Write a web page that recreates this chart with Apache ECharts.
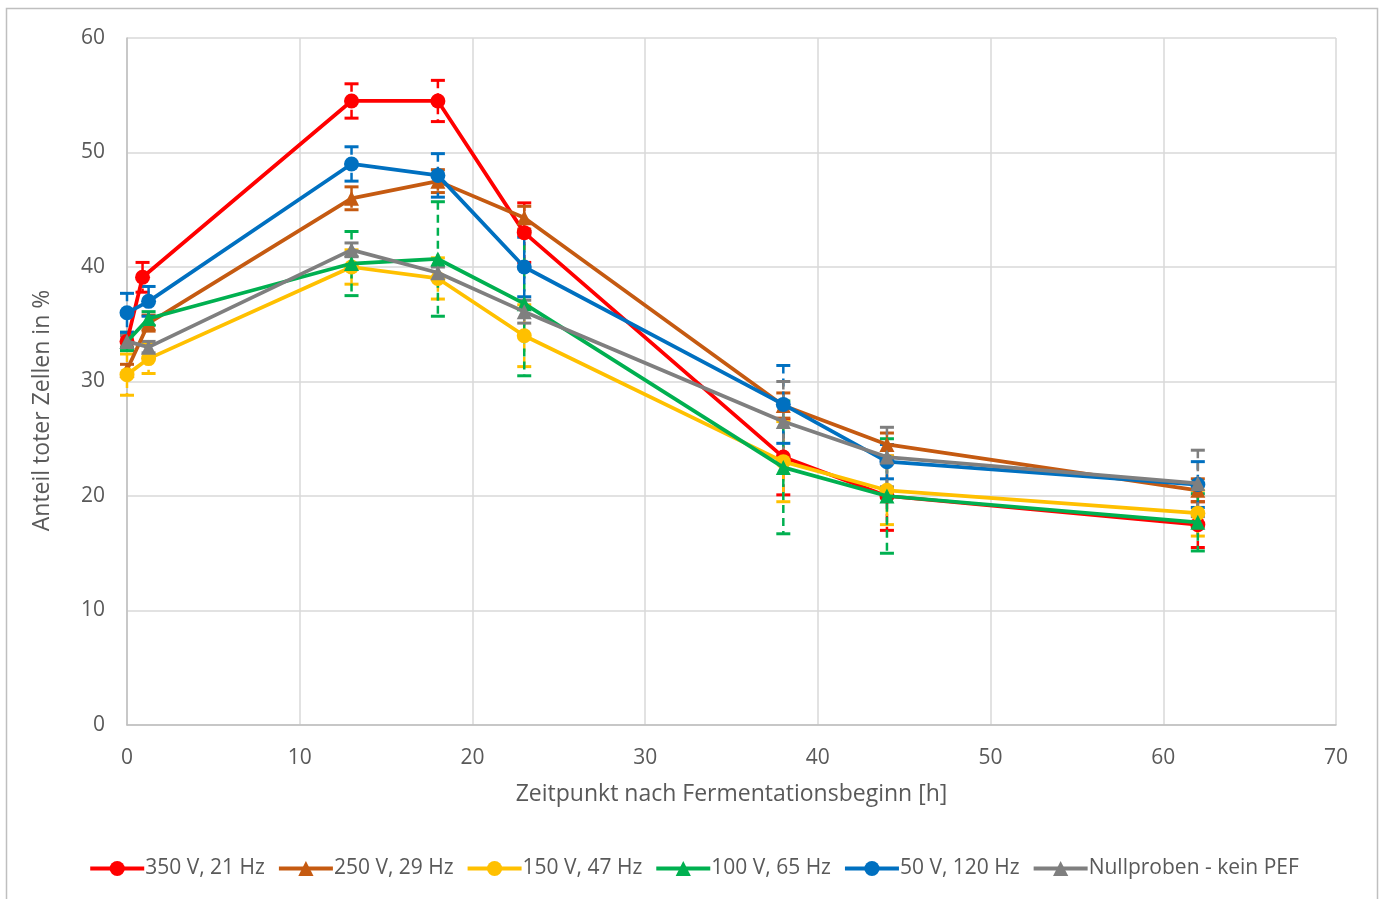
<!DOCTYPE html>
<html>
<head>
<meta charset="utf-8">
<script src="https://cdn.jsdelivr.net/npm/echarts@6/dist/echarts.min.js"></script>
<style>
html,body{margin:0;padding:0;background:#fff;}
#chart{width:1387px;height:899px;}
</style>
</head>
<body>
<div id="chart"></div>
<script>
// ---- data ----
const seriesNames = ['350 V, 21 Hz','250 V, 29 Hz','150 V, 47 Hz','100 V, 65 Hz','50 V, 120 Hz','Nullproben - kein PEF'];
const xRed   = [0, 0.9, 13, 18, 23, 38, 44, 62];
const xOther = [0, 1.25, 13, 18, 23, 38, 44, 62];
const y350 = [33.5, 39.1, 54.5, 54.5, 43.0, 23.4, 20.0, 17.5];
const e350 = [0.5, 1.3, 1.5, 1.8, 2.6, 3.3, 3.0, 2.0];
const y250 = [31.0, 35.1, 46.0, 47.5, 44.3, 27.9, 24.5, 20.5];
const e250 = [0.5, 0.7, 1.0, 1.0, 1.0, 1.1, 1.0, 1.0];
const y150 = [30.6, 32.0, 40.0, 39.0, 34.0, 23.0, 20.5, 18.5];
const e150 = [1.8, 1.3, 1.5, 1.8, 2.7, 3.5, 3.0, 2.0];
const y100 = [33.5, 35.5, 40.3, 40.7, 36.8, 22.5, 20.0, 17.7];
const e100 = [0.8, 0.6, 2.8, 5.0, 6.3, 5.8, 5.0, 2.5];
const y50  = [36.0, 37.0, 49.0, 48.0, 40.0, 28.0, 23.0, 21.0];
const e50  = [1.7, 1.3, 1.5, 1.9, 2.6, 3.4, 1.5, 2.0];
const yNull = [33.5, 33.0, 41.5, 39.5, 36.1, 26.5, 23.4, 21.1];
const eNull = [0.5, 0.5, 0.6, 0.5, 1.0, 3.5, 2.6, 2.9];
const xTicks = [0, 10, 20, 30, 40, 50, 60, 70];
const yTicks = [0, 10, 20, 30, 40, 50, 60];

const colors = ['#FF0000', '#C55A11', '#FFC000', '#00B050', '#0070C0', '#7F7F7F'];
const symbols = ['circle', 'triangle', 'circle', 'triangle', 'circle', 'triangle'];
const allX = [xRed, xOther, xOther, xOther, xOther, xOther];
const allY = [y350, y250, y150, y100, y50, yNull];
const allE = [e350, e250, e150, e100, e50, eNull];

const FONT = 'Open Sans';
const TXT = '#595959';

function errRender(color) {
  return function (params, api) {
    const x = api.value(0), lo = api.value(1), hi = api.value(2);
    const p1 = api.coord([x, hi]), p2 = api.coord([x, lo]);
    const cw = 7;
    return {
      type: 'group',
      children: [
        {type: 'line', shape: {x1: p1[0], y1: p1[1], x2: p2[0], y2: p2[1]},
         style: {stroke: color, lineWidth: 2.5, lineDash: [8, 5]}},
        {type: 'line', shape: {x1: p1[0] - cw, y1: p1[1], x2: p1[0] + cw, y2: p1[1]},
         style: {stroke: color, lineWidth: 3}},
        {type: 'line', shape: {x1: p2[0] - cw, y1: p2[1], x2: p2[0] + cw, y2: p2[1]},
         style: {stroke: color, lineWidth: 3}}
      ]
    };
  };
}

const series = [];
seriesNames.forEach((n, i) => {
  series.push({
    name: 'err' + i,
    type: 'custom',
    renderItem: errRender(colors[i]),
    data: allX[i].map((x, k) => [x, allY[i][k] - allE[i][k], allY[i][k] + allE[i][k]]),
    encode: {x: 0, y: [1, 2]},
    z: 2,
    silent: true
  });
});
const lineSeries = seriesNames.map((n, i) => ({
  name: n,
  type: 'line',
  data: allX[i].map((x, k) => [x, allY[i][k]]),
  symbol: symbols[i],
  symbolSize: 15,
  showSymbol: true,
  lineStyle: {color: colors[i], width: 3.75},
  itemStyle: {color: colors[i]},
  z: 3 + i,
  animation: false
}));

const chart = echarts.init(document.getElementById('chart'), null, {renderer: 'canvas'});
chart.setOption({
  animation: false,
  backgroundColor: '#fff',
  color: colors,
  textStyle: {fontFamily: FONT},
  graphic: [{
    type: 'rect', shape: {x: 6.5, y: 8.5, width: 1371, height: 920},
    style: {fill: 'none', stroke: '#bfbfbf', lineWidth: 1.5}, silent: true, z: -1
  }],
  grid: {left: 127, right: 51, top: 38, bottom: 174, containLabel: false},
  legend: {
    data: seriesNames,
    bottom: 15,
    left: 'center',
    itemWidth: 54,
    itemHeight: 19,
    itemGap: 12,
    lineStyle: {width: 4},
    textStyle: {color: TXT, fontSize: 21, fontFamily: FONT, padding: [0, 0, 0, -4]}
  },
  xAxis: {
    type: 'value', min: 0, max: 70, interval: 10,
    name: 'Zeitpunkt nach Fermentationsbeginn [h]',
    nameLocation: 'middle', nameGap: 58,
    nameTextStyle: {color: TXT, fontSize: 23, fontFamily: FONT},
    axisLine: {show: true, lineStyle: {color: '#bfbfbf', width: 1.5}},
    axisTick: {show: false},
    axisLabel: {color: TXT, fontSize: 21, margin: 23, fontFamily: FONT,
      formatter: v => xTicks.includes(v) ? String(v) : ''},
    splitLine: {show: true, lineStyle: {color: '#d9d9d9', width: 1.5}}
  },
  yAxis: {
    type: 'value', min: 0, max: 60, interval: 10,
    name: 'Anteil toter Zellen in %',
    nameLocation: 'middle', nameGap: 73,
    nameTextStyle: {color: TXT, fontSize: 23, fontFamily: FONT, padding: [0, 58, 0, 0]},
    axisLine: {show: true, lineStyle: {color: '#bfbfbf', width: 1.5}},
    axisTick: {show: false},
    axisLabel: {color: TXT, fontSize: 21, margin: 22, fontFamily: FONT,
      formatter: v => yTicks.includes(v) ? String(v) : ''},
    splitLine: {show: true, lineStyle: {color: '#d9d9d9', width: 1.5}}
  },
  series: lineSeries.concat(series)
});
</script>
</body>
</html>
